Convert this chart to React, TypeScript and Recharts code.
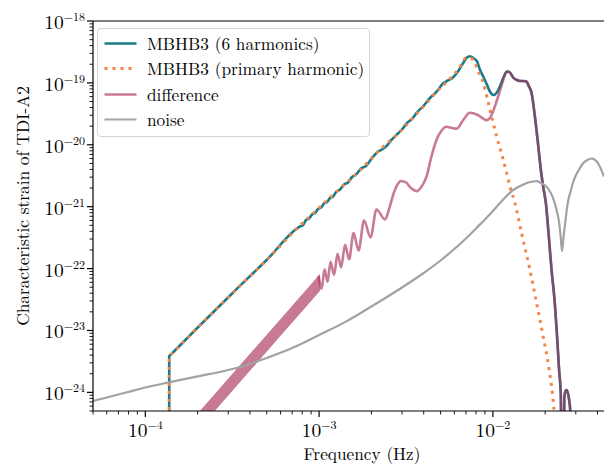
import React from 'react';
import { ComposedChart, Line, Area, XAxis, YAxis, Legend, ReferenceLine } from 'recharts';

// Characteristic strain of the TDI-A2 channel: full MBHB3 waveform, its primary
// harmonic, their difference and the instrumental noise curve.

type Pt = [number, number];

// MBHB3 with 6 harmonics: [frequency (Hz), characteristic strain]
const sixHarmonics: Pt[] = [
  [1.3725e-4, 1e-27], [1.373e-4, 3.85e-24], [1.401e-4, 4.07e-24], [2.071e-4, 1.227e-23],
  [3.203e-4, 4.11e-23], [5.024e-4, 1.403e-22], [7.775e-4, 4.79e-22], [8.091e-4, 5.06e-22],
  [8.42e-4, 6.1e-22], [8.761e-4, 6.45e-22], [9.116e-4, 7.48e-22], [9.485e-4, 7.91e-22],
  [9.87e-4, 9.18e-22], [1.027e-3, 9.7e-22], [1.068e-3, 1.127e-21], [1.112e-3, 1.191e-21],
  [1.157e-3, 1.384e-21], [1.204e-3, 1.462e-21], [1.252e-3, 1.726e-21], [1.32e-3, 1.897e-21],
  [1.392e-3, 2.286e-21], [1.468e-3, 2.461e-21], [1.548e-3, 3.02e-21], [1.632e-3, 3.31e-21],
  [1.743e-3, 4.14e-21], [1.862e-3, 4.55e-21], [1.99e-3, 5.79e-21], [2.154e-3, 7.52e-21],
  [2.301e-3, 8.4e-21], [2.459e-3, 9.75e-21], [2.627e-3, 1.219e-20], [2.806e-3, 1.469e-20],
  [2.999e-3, 1.767e-20], [3.203e-3, 2.25e-20], [3.423e-3, 2.61e-20], [3.657e-3, 3.33e-20],
  [3.96e-3, 4.16e-20], [4.344e-3, 5.7e-20], [4.705e-3, 7.0e-20], [5.16e-3, 9.78e-20],
  [5.513e-3, 1.094e-19], [5.89e-3, 1.222e-19], [6.292e-3, 1.528e-19], [6.723e-3, 2.06e-19],
  [7.088e-3, 2.57e-19], [7.375e-3, 2.7e-19], [7.724e-3, 2.52e-19], [8.091e-3, 2.24e-19],
  [8.42e-3, 1.645e-19], [8.797e-3, 1.268e-19], [9.237e-3, 9.42e-20], [9.612e-3, 7.26e-20],
  [1.007e-2, 6.38e-20], [1.054e-2, 7.0e-20], [1.097e-2, 8.75e-20], [1.157e-2, 1.268e-19],
  [1.204e-2, 1.528e-19], [1.252e-2, 1.472e-19], [1.308e-2, 1.222e-19], [1.373e-2, 1.114e-19],
  [1.429e-2, 1.074e-19], [1.497e-2, 1.074e-19], [1.562e-2, 1.054e-19], [1.61e-2, 8.85e-20],
  [1.669e-2, 6.92e-20], [1.744e-2, 2.9e-20], [1.821e-2, 1.01e-20], [1.887e-2, 3.99e-21],
  [1.951e-2, 2.04e-21], [2.017e-2, 1.16e-21], [2.098e-2, 3.33e-22], [2.175e-2, 9.66e-23],
  [2.271e-2, 2.81e-23], [2.341e-2, 8.09e-24], [2.404e-2, 2.34e-24], [2.459e-2, 9.25e-25],
  [2.52e-2, 1e-27], [2.576e-2, 8.28e-25], [2.611e-2, 1.03e-24], [2.652e-2, 1.09e-24],
  [2.698e-2, 9.95e-25], [2.745e-2, 7.67e-25], [2.789e-2, 4.91e-25], [2.826e-2, 1e-27],
];

// MBHB3 primary harmonic only
const primaryHarmonic: Pt[] = [
  [1.3725e-4, 1e-27], [1.373e-4, 3.85e-24], [1.401e-4, 4.07e-24], [2.071e-4, 1.227e-23],
  [3.203e-4, 4.11e-23], [5.024e-4, 1.403e-22], [7.775e-4, 4.97e-22], [1.013e-3, 9.89e-22],
  [1.32e-3, 1.968e-21], [1.72e-3, 3.85e-21], [2.154e-3, 7.52e-21], [2.806e-3, 1.469e-20],
  [3.657e-3, 3.21e-20], [4.768e-3, 7.26e-20], [5.89e-3, 1.318e-19], [6.46e-3, 1.807e-19],
  [6.723e-3, 2.22e-19], [6.995e-3, 2.52e-19], [7.281e-3, 2.52e-19], [7.704e-3, 2.39e-19],
  [8.231e-3, 1.545e-19], [8.797e-3, 1.004e-19], [9.273e-3, 5.74e-20], [9.612e-3, 3.72e-20],
  [1.004e-2, 2.27e-20], [1.05e-2, 1.377e-20], [1.097e-2, 8.95e-21], [1.146e-2, 5.79e-21],
  [1.199e-2, 3.53e-21], [1.252e-2, 2.14e-21], [1.338e-2, 1.16e-21], [1.468e-2, 3.56e-22],
  [1.632e-2, 9.66e-23], [1.783e-2, 2.81e-23], [1.946e-2, 8.09e-24], [2.107e-2, 2.34e-24],
  [2.242e-2, 5.64e-25], [2.3e-2, 2e-25],
];

// Difference at low frequency: unresolved fast oscillation, [frequency, lower, upper]
const differenceEnvelope: [number, number, number][] = [
  [1.938e-4, 2.18e-25, 4.11e-25],
  [2.698e-4, 6.31e-25, 1.187e-24],
  [4.012e-4, 2.25e-24, 4.24e-24],
  [5.969e-4, 8.03e-24, 1.51e-23],
  [8.878e-4, 2.86e-23, 5.4e-23],
  [1.013e-3, 4.38e-23, 8.24e-23],
];

// Difference (6 harmonics minus primary) once the oscillation is resolved
const difference: Pt[] = [
  [9.933e-4, 7.59e-23], [1.034e-3, 4.75e-23], [1.075e-3, 9.77e-23], [1.119e-3, 6.12e-23],
  [1.164e-3, 1.282e-22], [1.22e-3, 7.91e-23], [1.277e-3, 1.726e-22], [1.338e-3, 1.045e-22],
  [1.411e-3, 2.42e-22], [1.488e-3, 1.413e-22], [1.579e-3, 3.74e-22], [1.687e-3, 1.968e-22],
  [1.814e-3, 5.98e-22], [1.977e-3, 3.18e-22], [2.14e-3, 9.02e-22], [2.394e-3, 6.21e-22],
  [2.525e-3, 9.02e-22], [2.662e-3, 1.517e-21], [2.806e-3, 2.2e-21], [2.96e-3, 2.6e-21],
  [3.162e-3, 2.46e-21], [3.378e-3, 2.0e-21], [3.643e-3, 1.78e-21], [3.856e-3, 2.04e-21],
  [4.159e-3, 3.11e-21], [4.431e-3, 6.47e-21], [4.748e-3, 1.219e-20], [5.024e-3, 1.641e-20],
  [5.42e-3, 1.954e-20], [5.812e-3, 1.868e-20], [6.184e-3, 1.813e-20], [6.723e-3, 2.47e-20],
  [7.375e-3, 3.29e-20], [8.199e-3, 3.03e-20], [9.201e-3, 2.5e-20], [9.612e-3, 2.71e-20],
  [1.004e-2, 3.49e-20], [1.054e-2, 5.2e-20], [1.097e-2, 7.34e-20], [1.149e-2, 1.135e-19],
  [1.204e-2, 1.528e-19], [1.252e-2, 1.472e-19], [1.308e-2, 1.222e-19], [1.373e-2, 1.114e-19],
  [1.429e-2, 1.074e-19], [1.497e-2, 1.074e-19], [1.562e-2, 1.054e-19], [1.61e-2, 8.85e-20],
  [1.669e-2, 6.92e-20], [1.744e-2, 2.9e-20], [1.821e-2, 1.01e-20], [1.887e-2, 3.99e-21],
  [1.951e-2, 2.04e-21], [2.017e-2, 1.16e-21], [2.098e-2, 3.33e-22], [2.175e-2, 9.66e-23],
  [2.271e-2, 2.81e-23], [2.341e-2, 8.09e-24], [2.404e-2, 2.34e-24], [2.459e-2, 9.25e-25],
  [2.52e-2, 1e-27], [2.576e-2, 8.28e-25], [2.611e-2, 1.03e-24], [2.652e-2, 1.09e-24],
  [2.698e-2, 9.95e-25], [2.745e-2, 7.67e-25], [2.789e-2, 4.91e-25], [2.826e-2, 1e-27],
];

// Instrumental noise
const noise: Pt[] = [
  [5e-5, 7.26e-25], [6e-5, 8.28e-25], [8e-5, 1.02e-24], [1e-4, 1.2e-24], [1.5e-4, 1.53e-24],
  [2e-4, 1.81e-24], [3e-4, 2.3e-24], [4e-4, 2.88e-24], [5e-4, 3.6e-24], [7e-4, 5.21e-24],
  [1e-3, 8.45e-24], [1.4e-3, 1.35e-23], [2e-3, 2.44e-23], [3e-3, 4.95e-23], [4e-3, 8.49e-23],
  [5e-3, 1.35e-22], [6e-3, 2.07e-22], [7e-3, 3.06e-22], [8e-3, 4.45e-22], [9e-3, 6.21e-22],
  [1e-2, 8.53e-22], [1.1e-2, 1.15e-21], [1.2e-2, 1.49e-21], [1.3e-2, 1.83e-21], [1.4e-2, 2.08e-21],
  [1.5e-2, 2.29e-21], [1.6e-2, 2.46e-21], [1.7e-2, 2.55e-21], [1.8e-2, 2.58e-21], [1.863e-2, 2.46e-21],
  [2.0e-2, 2.2e-21], [2.126e-2, 1.78e-21], [2.213e-2, 1.41e-21], [2.323e-2, 9.0e-22], [2.4e-2, 5.77e-22],
  [2.449e-2, 3.56e-22], [2.5e-2, 1.91e-22], [2.552e-2, 3.3e-22], [2.6e-2, 5.15e-22], [2.7e-2, 1.17e-21],
  [2.8e-2, 1.76e-21], [2.893e-2, 2.46e-21], [3e-2, 3.19e-21], [3.162e-2, 4.14e-21], [3.3e-2, 4.99e-21],
  [3.5e-2, 5.68e-21], [3.7e-2, 6.01e-21], [4e-2, 5.18e-21], [4.36e-2, 3.07e-21],
];

// Axis ticks
const xTicks = [
  5e-5, 6e-5, 7e-5, 8e-5, 9e-5,
  1e-4, 2e-4, 3e-4, 4e-4, 5e-4, 6e-4, 7e-4, 8e-4, 9e-4,
  1e-3, 2e-3, 3e-3, 4e-3, 5e-3, 6e-3, 7e-3, 8e-3, 9e-3,
  1e-2, 2e-2, 3e-2, 4e-2,
];
const yDecades = [-24, -23, -22, -21, -20, -19];
const yMinorSteps = [2, 3, 4, 5, 6, 7, 8, 9];
const yTicks = [
  5e-25, 6e-25, 7e-25, 8e-25, 9e-25,
  ...yDecades.flatMap((d) => [Number(`1e${d}`), ...yMinorSteps.map((m) => Number(`${m}e${d}`))]),
  1e-18,
];

const X_DOMAIN: [number, number] = [5e-5, 4.36e-2];
const Y_DOMAIN: [number, number] = [5e-25, 1e-18];

const TEAL = '#1b7c89';
const ORANGE = '#f0874a';
const DIFF = '#aa325b';
const DIFF_ALPHA = 0.65;
const GREY = '#a2a2a2';

const FONT = '"Latin Modern Roman", "Liberation Serif", serif';
const FONT_SIZE = 17.3;
const TICK_SIZE = 19.5;
const SUP_SIZE = 12;

const toRows = (pts: Pt[]) => pts.map(([f, h]) => ({ f, h }));
const fullRows = toRows(sixHarmonics);
const primaryRows = toRows(primaryHarmonic);
const diffRows = toRows(difference);
const noiseRows = toRows(noise);
const envelopeRows = differenceEnvelope.map(([f, lo, hi]) => ({ f, band: [lo, hi] }));

const legendStyle: Record<string, { color: string; width: number; dash?: string; opacity: number }> = {
  'MBHB3 (6 harmonics)': { color: TEAL, width: 2.6, opacity: 1 },
  'MBHB3 (primary harmonic)': { color: ORANGE, width: 3, dash: '3 5', opacity: 1 },
  difference: { color: DIFF, width: 2.6, opacity: DIFF_ALPHA },
  noise: { color: GREY, width: 2.2, opacity: 1 },
};

const exponentText = (e: number) => (e < 0 ? `\u2212${Math.abs(e)}` : `${e}`);

function decadeOf(v: number): number | null {
  const l = Math.log10(v);
  const e = Math.round(l);
  return Math.abs(l - e) < 1e-6 ? e : null;
}

function XTick(props: any) {
  const { x, y, payload } = props;
  const e = decadeOf(payload.value);
  const major = e !== null;
  return (
    <g>
      <line x1={x} x2={x} y1={y} y2={y + (major ? 6 : 3.5)} stroke="#000" strokeWidth={major ? 1.2 : 0.9} />
      {major && (
        <text x={x} y={y + 26} textAnchor="middle" fontFamily={FONT} fontSize={TICK_SIZE} fill="#000">
          10
          <tspan dy={-8} fontSize={SUP_SIZE}>{exponentText(e as number)}</tspan>
        </text>
      )}
    </g>
  );
}

function YTick(props: any) {
  const { x, y, payload } = props;
  const e = decadeOf(payload.value);
  const major = e !== null;
  return (
    <g>
      <line x1={x - (major ? 6 : 3.5)} x2={x} y1={y} y2={y} stroke="#000" strokeWidth={major ? 1.2 : 0.9} />
      {major && (
        <text x={x - 8} y={y + 8} textAnchor="end" fontFamily={FONT} fontSize={TICK_SIZE} fill="#000">
          10
          <tspan dy={-8} fontSize={SUP_SIZE}>{exponentText(e as number)}</tspan>
        </text>
      )}
    </g>
  );
}

function LegendBox(props: any) {
  const items = (props.payload || []).filter((p: any) => legendStyle[p.value]);
  return (
    <div
      style={{
        width: 273,
        height: 109,
        boxSizing: 'border-box',
        border: '1px solid #d6d6d6',
        borderRadius: 4,
        background: 'rgba(255,255,255,0.8)',
        position: 'relative',
        fontFamily: FONT,
        fontSize: FONT_SIZE,
        color: '#000',
      }}
    >
      {items.map((item: any, i: number) => {
        const s = legendStyle[item.value];
        return (
          <div
            key={item.value}
            style={{ position: 'absolute', left: 0, top: 2 + i * 25.3, height: 25, display: 'flex', alignItems: 'center', whiteSpace: 'nowrap' }}
          >
            <svg width={49} height={25} style={{ display: 'block' }}>
              <line x1={6.5} x2={38.5} y1={12.5} y2={12.5} stroke={s.color} strokeWidth={s.width} strokeDasharray={s.dash} strokeOpacity={s.opacity} />
            </svg>
            <span style={{ lineHeight: '25px' }}>{item.value}</span>
          </div>
        );
      })}
    </div>
  );
}

export default function App() {
  return (
    <div style={{ position: 'absolute', left: 0, top: 0, width: 604, height: 465, background: '#fff' }}>
      <ComposedChart width={604} height={465} margin={{ top: 21, right: 0, bottom: 0, left: 0 }}>
        <XAxis
          dataKey="f"
          type="number"
          scale="log"
          domain={X_DOMAIN}
          allowDataOverflow
          ticks={xTicks}
          interval={0}
          tick={(p: any) => <XTick {...p} />}
          tickLine={false}
          tickSize={0}
          tickMargin={0}
          height={54}
          axisLine={{ stroke: '#000', strokeWidth: 1.2 }}
          label={(p: any) => {
            const vb = p.viewBox || { x: 93, y: 411, width: 511, height: 54 };
            return (
              <text x={vb.x + 269} y={vb.y + 49} textAnchor="middle" fontFamily={FONT} fontSize={FONT_SIZE} fill="#000">
                Frequency (Hz)
              </text>
            );
          }}
        />
        <YAxis
          type="number"
          scale="log"
          domain={Y_DOMAIN}
          allowDataOverflow
          ticks={yTicks}
          interval={0}
          tick={(p: any) => <YTick {...p} />}
          tickLine={false}
          tickSize={0}
          tickMargin={0}
          width={93}
          axisLine={{ stroke: '#000', strokeWidth: 1.2 }}
          label={(p: any) => {
            const vb = p.viewBox || { x: 0, y: 21, width: 93, height: 390 };
            const cy = vb.y + 185;
            return (
              <text
                transform={`translate(${vb.x + 22}, ${cy}) rotate(-90)`}
                textAnchor="middle"
                dominantBaseline="central"
                fontFamily={FONT}
                fontSize={FONT_SIZE}
                fill="#000"
              >
                Characteristic strain of TDI-A2
              </text>
            );
          }}
        />
        <ReferenceLine y={1e-18} stroke="#000" strokeWidth={1.2} />

        <Line
          data={fullRows}
          dataKey="h"
          name="MBHB3 (6 harmonics)"
          type="monotone"
          stroke={TEAL}
          strokeWidth={2.6}
          dot={false}
          activeDot={false}
          isAnimationActive={false}
        />
        <Line
          data={primaryRows}
          dataKey="h"
          name="MBHB3 (primary harmonic)"
          type="monotone"
          stroke={ORANGE}
          strokeWidth={3}
          strokeDasharray="3 5"
          dot={false}
          activeDot={false}
          isAnimationActive={false}
        />
        <Area
          data={envelopeRows}
          dataKey="band"
          name="difference band"
          type="linear"
          stroke="none"
          fill={DIFF}
          fillOpacity={DIFF_ALPHA}
          legendType="none"
          activeDot={false}
          isAnimationActive={false}
        />
        <Line
          data={diffRows}
          dataKey="h"
          name="difference"
          type="monotone"
          stroke={DIFF}
          strokeOpacity={DIFF_ALPHA}
          strokeWidth={2.6}
          dot={false}
          activeDot={false}
          isAnimationActive={false}
        />
        <Line
          data={noiseRows}
          dataKey="h"
          name="noise"
          type="monotone"
          stroke={GREY}
          strokeWidth={2.2}
          dot={false}
          activeDot={false}
          isAnimationActive={false}
        />
        <Legend
          layout="vertical"
          align="center"
          verticalAlign="middle"
          wrapperStyle={{ left: 97, top: 28, width: 273 }}
          content={(p: any) => <LegendBox {...p} />}
        />
      </ComposedChart>
    </div>
  );
}
